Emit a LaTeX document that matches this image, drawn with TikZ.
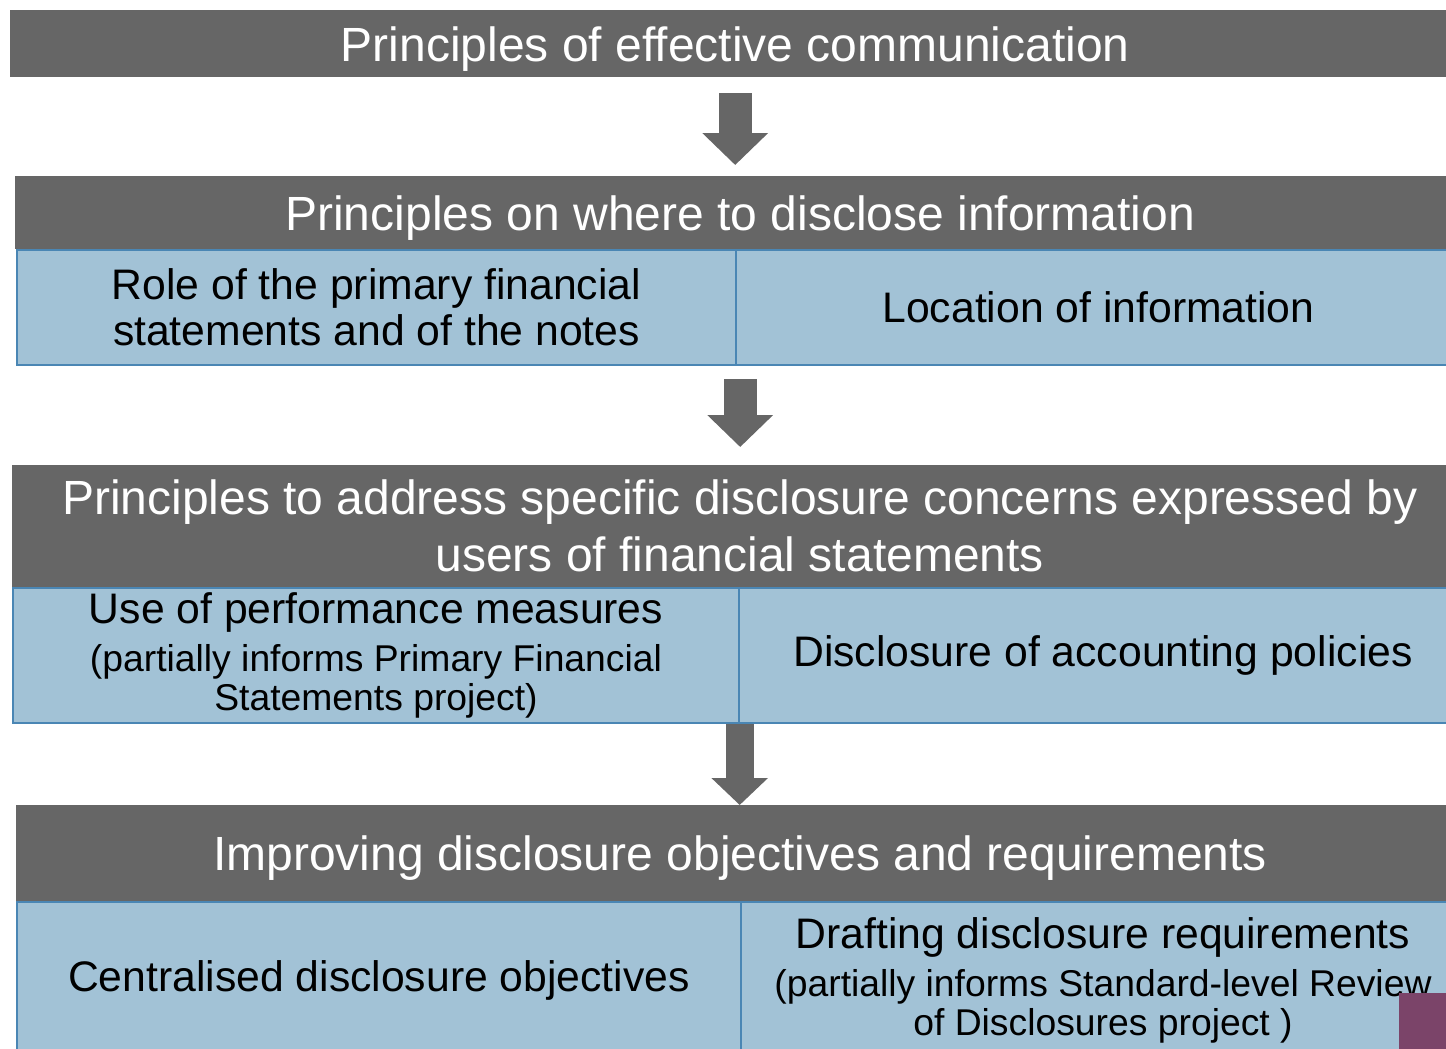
\documentclass[tikz,border=0pt]{standalone}
\usepackage{fontspec}
\setmainfont{Liberation Sans}
\usetikzlibrary{positioning}
\usetikzlibrary{arrows.meta}
\definecolor{bargray}{RGB}{102,102,102}
\definecolor{boxblue}{RGB}{162,194,214}
\definecolor{edgeblue}{RGB}{74,134,180}
\definecolor{plum}{RGB}{123,68,105}
\newcommand\smalltxt{\fontsize{37.3}{40}\selectfont}

\begin{document}
\begin{tikzpicture}[x=1pt,y=-1pt,
	bar/.style={fill=bargray, text=white, anchor=north west, inner sep=0pt, align=center, font=\fontsize{48}{57}\selectfont},
	onebar/.style={bar, text depth=0pt},
	cell/.style={fill=boxblue, draw=edgeblue, line width=2pt, anchor=north west, inner sep=0pt, align=center, font=\fontsize{42.7}{46}\selectfont},
	down/.style={draw=bargray, line width=33pt, -{Triangle[width=64pt,length=32pt]}},
	smalldown/.style={draw=bargray, line width=28pt, -{Triangle[width=55pt,length=27pt]}}]
		\useasboundingbox (0,0) rectangle (1446,1049);
		\clip (0,0) rectangle (1446,1049);
		% effective communication
		\node[onebar, minimum width=1450pt, minimum height=67pt] (t1) at (10,10) {Principles of effective communication};
		% where to disclose
		\node[onebar, minimum width=1450pt, minimum height=73pt] (t2) at (15,176) {Principles on where to disclose information};
		\node[cell, minimum width=719pt, minimum height=115pt] (c2l) at (16,249) {Role of the primary financial\\statements and of the notes};
		\node[cell, minimum width=725pt, minimum height=115pt] (c2r) at (735,249) {Location of information};
		% specific concerns
		\node[bar, minimum width=1455pt, minimum height=122pt] (t3) at (12,465) {Principles to address specific disclosure concerns expressed by\\users of financial statements};
		\node[cell, minimum width=726pt, minimum height=135pt] (c3l) at (12,587) {Use of performance measures\\[2pt]\smalltxt (partially informs Primary Financial\\[-7pt]\smalltxt Statements project)};
		\node[cell, minimum width=728pt, minimum height=135pt] (c3r) at (738,587) {Disclosure of accounting policies};
		% objectives and requirements
		\node[onebar, minimum width=1448pt, minimum height=96pt] (t4) at (16,805) {Improving disclosure objectives and requirements};
		\node[cell, minimum width=724pt, minimum height=156pt] (c4l) at (16,901) {Centralised disclosure objectives};
		\node[cell, minimum width=724pt, minimum height=156pt] (c4r) at (740,901) {Drafting disclosure requirements\\[2pt]\smalltxt (partially informs Standard-level Review\\[-7pt]\smalltxt of Disclosures project )};
		\draw[down, shorten <=16pt, shorten >=11pt] (t1.south) -- (t1.south |- t2.north);
		\draw[down, shorten <=13pt, shorten >=18pt] (t2.south |- c2l.south) -- (t2.south |- t3.north);
		\draw[smalldown] (t3.south |- c3l.south) -- (t3.south |- t4.north);
		\fill[plum] (1399,993) rectangle (1446,1049);
\end{tikzpicture}
\end{document}
